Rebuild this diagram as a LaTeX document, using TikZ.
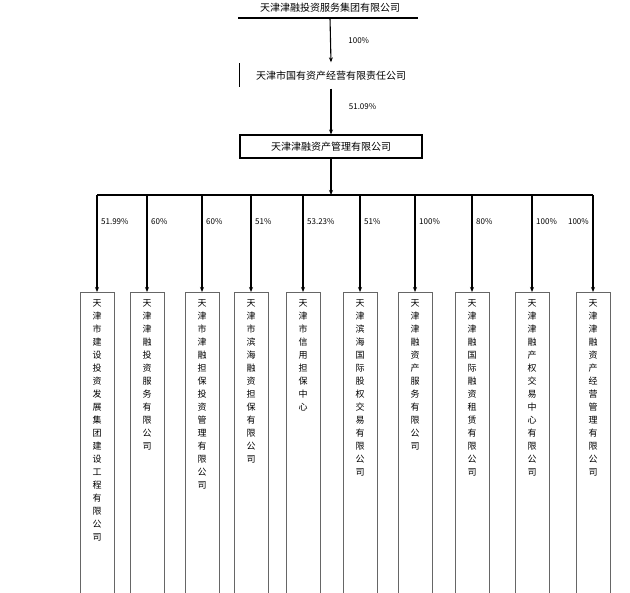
\documentclass[tikz,border=0pt]{standalone}
\usepackage{fontspec}
\newfontfamily\cjk{Noto Sans CJK SC}
\XeTeXlinebreaklocale "zh"
\XeTeXlinebreakskip=0pt plus 1pt
\usetikzlibrary{arrows.meta}
\begin{document}
\begin{tikzpicture}[x=1pt,y=-1pt,
  line/.style={line width=1.1pt,black},
  arr/.style={line width=1.1pt,black,-{Stealth[length=5pt,width=4pt]}},
  head/.style={font=\cjk\fontsize{10}{12}\selectfont,inner sep=0pt},
  pct/.style={font=\cjk\fontsize{8}{10}\selectfont,inner sep=0pt,anchor=west},
  subbox/.style={draw=black!60,line width=0.9pt,minimum width=34pt,minimum height=310pt,anchor=north,inner sep=0pt},
  subtext/.style={font=\cjk\fontsize{9}{13}\selectfont,text width=9pt,align=center,anchor=north,inner sep=0pt}]
\useasboundingbox (0,0) rectangle (630,593);
\clip (0,0) rectangle (630,593);
\fill[white] (0,0) rectangle (630,593);
% top level
\node[head] (top) at (330,8) {天津津融投资服务集团有限公司};
\draw[line] (238,18) -- (418,18);
\coordinate (t) at (330,18);
% second level
\node[head,minimum width=182pt,minimum height=26pt] (n2) at (331,75.5) {天津市国有资产经营有限责任公司};
\draw[line] (n2.north west) ++(0,1) -- ++(0,24);
\draw[arr] (t) -- (n2.north) node[pos=0.5,right=14pt,font=\cjk\fontsize{8}{10}\selectfont] {100\%};
% third level
\node[head,draw,line width=1.1pt,minimum width=182pt,minimum height=23pt] (n3) at (331,146.5) {天津津融资产管理有限公司};
\draw[arr] (n2.south) -- (n3.north) node[pos=0.4,right=14pt,font=\cjk\fontsize{8}{10}\selectfont] {51.09\%};
% bus
\coordinate (bus) at (331,195);
\draw[arr] (n3.south) -- (bus);
\foreach \i/\x/\t in {
  1/97/天津市建设投资发展集团建设工程有限公司,
  2/147/天津津融投资服务有限公司,
  3/202/天津市津融担保投资管理有限公司,
  4/251/天津市滨海融资担保有限公司,
  5/303/天津市信用担保中心,
  6/360/天津滨海国际股权交易有限公司,
  7/415/天津津融资产服务有限公司,
  8/472/天津津融国际融资租赁有限公司,
  9/532/天津津融产权交易中心有限公司,
  10/593/天津津融资产经营管理有限公司}{
  \coordinate (c\i) at (\x,195);
  \node[subbox] (b\i) at (\x,292) {};
  \node[subtext] (s\i) at (\x,299) {\t};
  \draw[arr] (c\i) -- (b\i.north);
}
\draw[line] (c1) -- (c10);
\foreach \i/\p in {1/51.99\%,2/60\%,3/60\%,4/51\%,5/53.23\%,6/51\%,7/100\%,8/80\%,9/100\%}{
  \node[pct] (p\i) at ([xshift=4pt,yshift=-27pt]c\i) {\p};
}
\node[pct,anchor=east] (p10) at ([xshift=-4pt,yshift=-27pt]c10) {100\%};
\end{tikzpicture}
\end{document}
